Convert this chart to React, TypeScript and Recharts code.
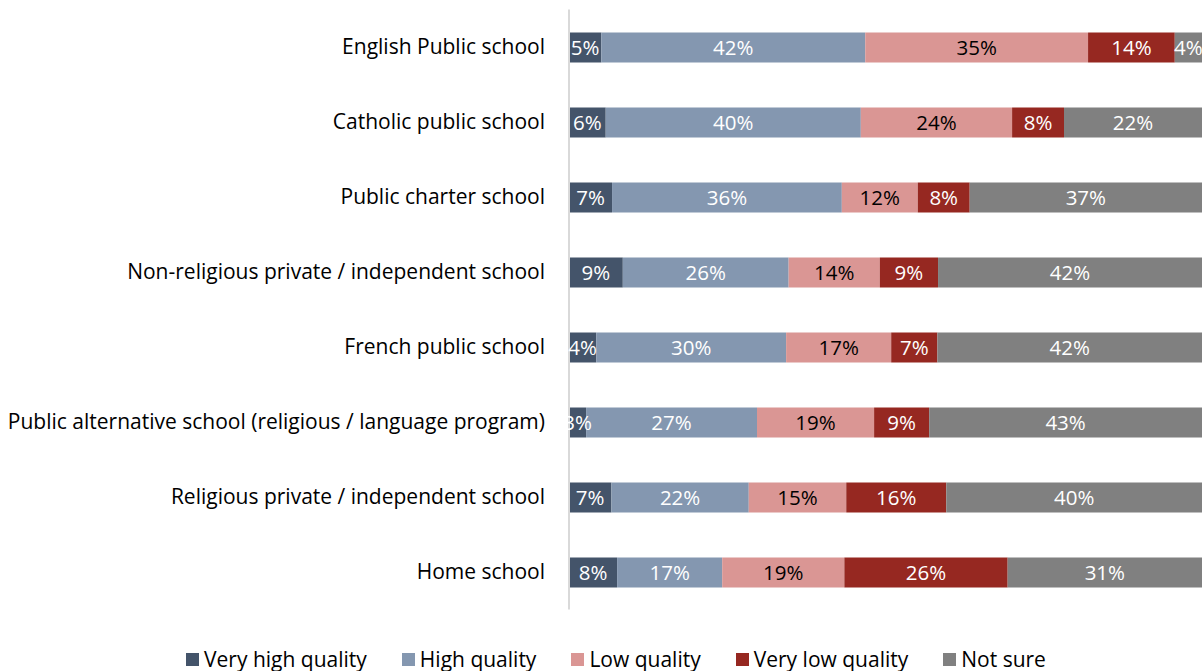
import React from 'react';
import { BarChart, Bar, XAxis, YAxis, LabelList } from 'recharts';

const categories = [
  'English Public school',
  'Catholic public school',
  'Public charter school',
  'Non-religious private / independent school',
  'French public school',
  'Public alternative school (religious / language program)',
  'Religious private / independent school',
  'Home school',
];

const veryHigh = [5.1, 5.8, 6.8, 8.5, 4.3, 2.7, 6.7, 7.6];
const high = [41.7, 40.3, 36.3, 26.2, 30.0, 27.0, 21.7, 16.6];
const low = [35.2, 23.9, 12.0, 14.4, 16.6, 18.5, 15.4, 19.3];
const veryLow = [13.7, 8.2, 8.2, 9.2, 7.3, 8.7, 15.8, 25.8];
const notSure = [4.3, 21.8, 36.7, 41.7, 41.8, 43.1, 40.4, 30.7];

const seriesNames = ['Very high quality', 'High quality', 'Low quality', 'Very low quality', 'Not sure'];
const seriesKeys = ['veryHigh', 'high', 'low', 'veryLow', 'notSure'];
const seriesColors = ['#44546a', '#8497b0', '#da9694', '#962821', '#808080'];
const labelColors = ['#ffffff', '#ffffff', '#000000', '#ffffff', '#ffffff'];

const data = categories.map((name, i) => ({
  name,
  veryHigh: veryHigh[i],
  high: high[i],
  low: low[i],
  veryLow: veryLow[i],
  notSure: notSure[i],
}));

const FONT = '"Open Sans", sans-serif';

export default function App() {
  return (
    <div style={{ position: 'absolute', left: 0, top: 0, width: 1202, height: 671, background: '#fff', fontFamily: FONT }}>
      <BarChart
        width={1202}
        height={671}
        data={data}
        layout="vertical"
        margin={{ top: 9.5, right: 0, bottom: 61.5, left: 0 }}
        barCategoryGap={22.5}
      >
        <XAxis type="number" domain={[0, 100]} hide allowDataOverflow />
        <YAxis
          type="category"
          dataKey="name"
          width={569}
          tickLine={false}
          axisLine={{ stroke: '#d9d9d9', strokeWidth: 2 }}
          tickMargin={18}
          tick={{ fill: '#000', fontSize: 21, fontFamily: FONT }}
          interval={0}
        />
        {seriesKeys.map((k, si) => (
          <Bar
            key={k}
            dataKey={k}
            name={seriesNames[si]}
            stackId="a"
            fill={seriesColors[si]}
            barSize={30}
            isAnimationActive={false}
          >
            <LabelList
              dataKey={k}
              position="center"
              formatter={(v: number) => `${Math.round(v)}%`}
              style={{ fill: labelColors[si], fontSize: 20.5, fontFamily: FONT }}
            />
          </Bar>
        ))}
      </BarChart>
      <div
        style={{
          position: 'absolute',
          top: 645,
          left: 0,
          width: 1202,
          display: 'flex',
          justifyContent: 'center',
          fontSize: 21,
          color: '#000',
          paddingLeft: 30,
          boxSizing: 'border-box',
        }}
      >
        {seriesNames.map((n, i) => (
          <div key={n} style={{ display: 'flex', alignItems: 'center', marginRight: i < 4 ? 35 : 0 }}>
            <span style={{ width: 13, height: 13, background: seriesColors[i], display: 'inline-block', marginRight: 5 }} />
            <span style={{ lineHeight: '28px' }}>{n}</span>
          </div>
        ))}
      </div>
    </div>
  );
}
